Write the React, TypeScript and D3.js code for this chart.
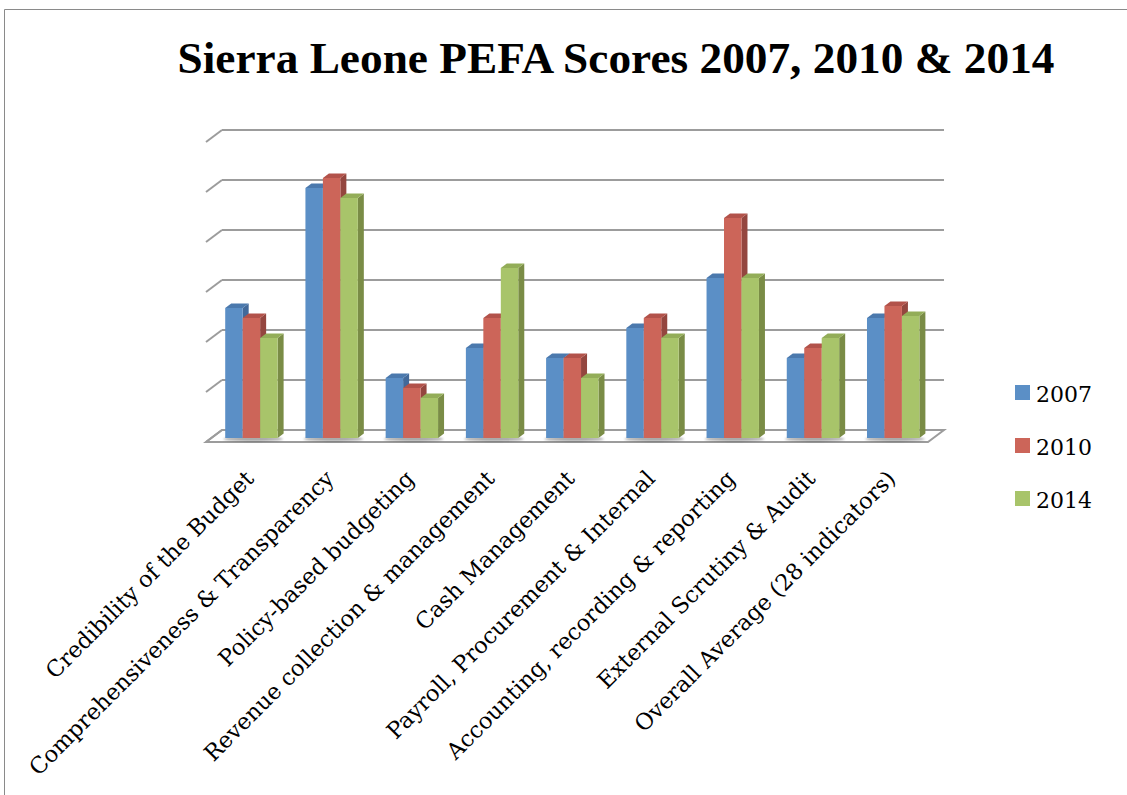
import React from "react";
import * as d3 from "d3";

const categories = [
  "Credibility of the Budget",
  "Comprehensiveness & Transparency",
  "Policy-based budgeting",
  "Revenue collection & management",
  "Cash Management",
  "Payroll, Procurement & Internal",
  "Accounting, recording & reporting",
  "External Scrutiny & Audit",
  "Overall Average (28 indicators)",
];
const seriesNames = ["2007", "2010", "2014"];
const values2007 = [1.3, 2.5, 0.6, 0.9, 0.8, 1.1, 1.6, 0.8, 1.2];
const values2010 = [1.2, 2.6, 0.5, 1.2, 0.8, 1.2, 2.2, 0.9, 1.32];
const values2014 = [1.0, 2.4, 0.4, 1.7, 0.6, 1.0, 1.6, 1.0, 1.22];
const yTicks = [0, 0.5, 1, 1.5, 2, 2.5, 3];

const frontColors = ["#5B8FC6", "#CC6559", "#A8C46A"];
const sideColors = ["#42699A", "#94463F", "#7A8C46"];
const topColors = ["#4B79AD", "#B2524A", "#93AD58"];

const W = 1127;
const H = 795;
// floor geometry
const floorFrontY = 442;
const floorLeft = 206;
const floorRight = 928;
const depthDx = 16;
const depthDy = -12;
// bar depth placement
const barShiftX = 5.3;
const barShiftY = -4;
const barDepthX = 6;
const barDepthY = -4.5;

export default function App() {
  const series = [values2007, values2010, values2014];
  const x = d3.scaleBand<string>().domain(categories).range([floorLeft, floorRight]).paddingInner(0).paddingOuter(0);
  const inner = d3.scaleBand<string>().domain(seriesNames).range([0, 52.4]);
  const y = d3.scaleLinear().domain([0, 3]).range([0, 300]);

  const backY = (v: number) => floorFrontY + depthDy - y(v);
  const backLeft = floorLeft + depthDx;
  const backRight = floorRight + depthDx;

  const bars: React.ReactNode[] = [];
  categories.forEach((c, i) => {
    const groupStart = (x(c) as number) + x.bandwidth() / 2 - 26.2 + barShiftX;
    const base = floorFrontY + barShiftY;
    bars.push(
      <ellipse key={`sh${i}`} cx={groupStart + 28} cy={base + 1} rx={30} ry={2.2} fill="#000" opacity={0.35} filter="url(#blur)" />
    );
    seriesNames.forEach((s, j) => {
      const v = series[j][i];
      const x0 = groupStart + (inner(s) as number);
      const w = inner.bandwidth();
      const top = base - y(v);
      const x1 = x0 + w;
      bars.push(
        <g key={`b${i}-${j}`}>
          <polygon
            points={`${x1},${top} ${x1 + barDepthX},${top + barDepthY} ${x1 + barDepthX},${base + barDepthY} ${x1},${base}`}
            fill={sideColors[j]}
          />
          <polygon
            points={`${x0},${top} ${x0 + barDepthX},${top + barDepthY} ${x1 + barDepthX},${top + barDepthY} ${x1},${top}`}
            fill={topColors[j]}
          />
          <rect x={x0} y={top} width={w} height={base - top} fill={frontColors[j]} />
        </g>
      );
    });
  });

  return (
    <svg width={W} height={H} style={{ position: "absolute", left: 0, top: 0, background: "#fff" }}>
      <defs>
        <filter id="blur" x="-20%" y="-200%" width="140%" height="500%">
          <feGaussianBlur stdDeviation="1.2" />
        </filter>
      </defs>
      <rect x={0} y={0} width={W} height={H} fill="#fff" />
      <path d={`M4.5,${H} L4.5,9.5 L${W},9.5`} fill="none" stroke="#8a8a8a" strokeWidth={1} />
      <text
        x={616}
        y={73}
        textAnchor="middle"
        fontFamily="'Liberation Serif', serif"
        fontWeight="bold"
        fontSize={45}
        textLength={877}
        lengthAdjust="spacingAndGlyphs"
        fill="#000"
      >
        Sierra Leone PEFA Scores 2007, 2010 &amp; 2014
      </text>
      <polygon
        points={`${floorLeft},${floorFrontY} ${floorRight},${floorFrontY} ${backRight},${floorFrontY + depthDy} ${backLeft},${floorFrontY + depthDy}`}
        fill="#fff"
        stroke="#9c9c9c"
        strokeWidth={2}
      />
      {yTicks.map((t) => (
        <g key={`g${t}`}>
          <line x1={backLeft} x2={backRight} y1={backY(t)} y2={backY(t)} stroke="#9c9c9c" strokeWidth={2} />
          <line x1={floorLeft} y1={backY(t) - depthDy} x2={backLeft} y2={backY(t)} stroke="#9c9c9c" strokeWidth={2} />
        </g>
      ))}
      {bars}
      {categories.map((c) => {
        const ax = (x(c) as number) + x.bandwidth() / 2 + 9;
        const ay = 480;
        return (
          <text
            key={c}
            transform={`translate(${ax},${ay}) rotate(-45)`}
            textAnchor="end"
            fontFamily="'DejaVu Serif', serif"
            fontSize={22.5}
            fill="#000"
          >
            {c}
          </text>
        );
      })}
      {seriesNames.map((s, j) => (
        <g key={s} transform={`translate(1015,${385 + j * 53})`}>
          <rect x={0} y={0} width={15} height={15} fill={frontColors[j]} />
          <text x={21} y={17} fontFamily="'DejaVu Serif', serif" fontSize={22} fill="#000">
            {s}
          </text>
        </g>
      ))}
    </svg>
  );
}
